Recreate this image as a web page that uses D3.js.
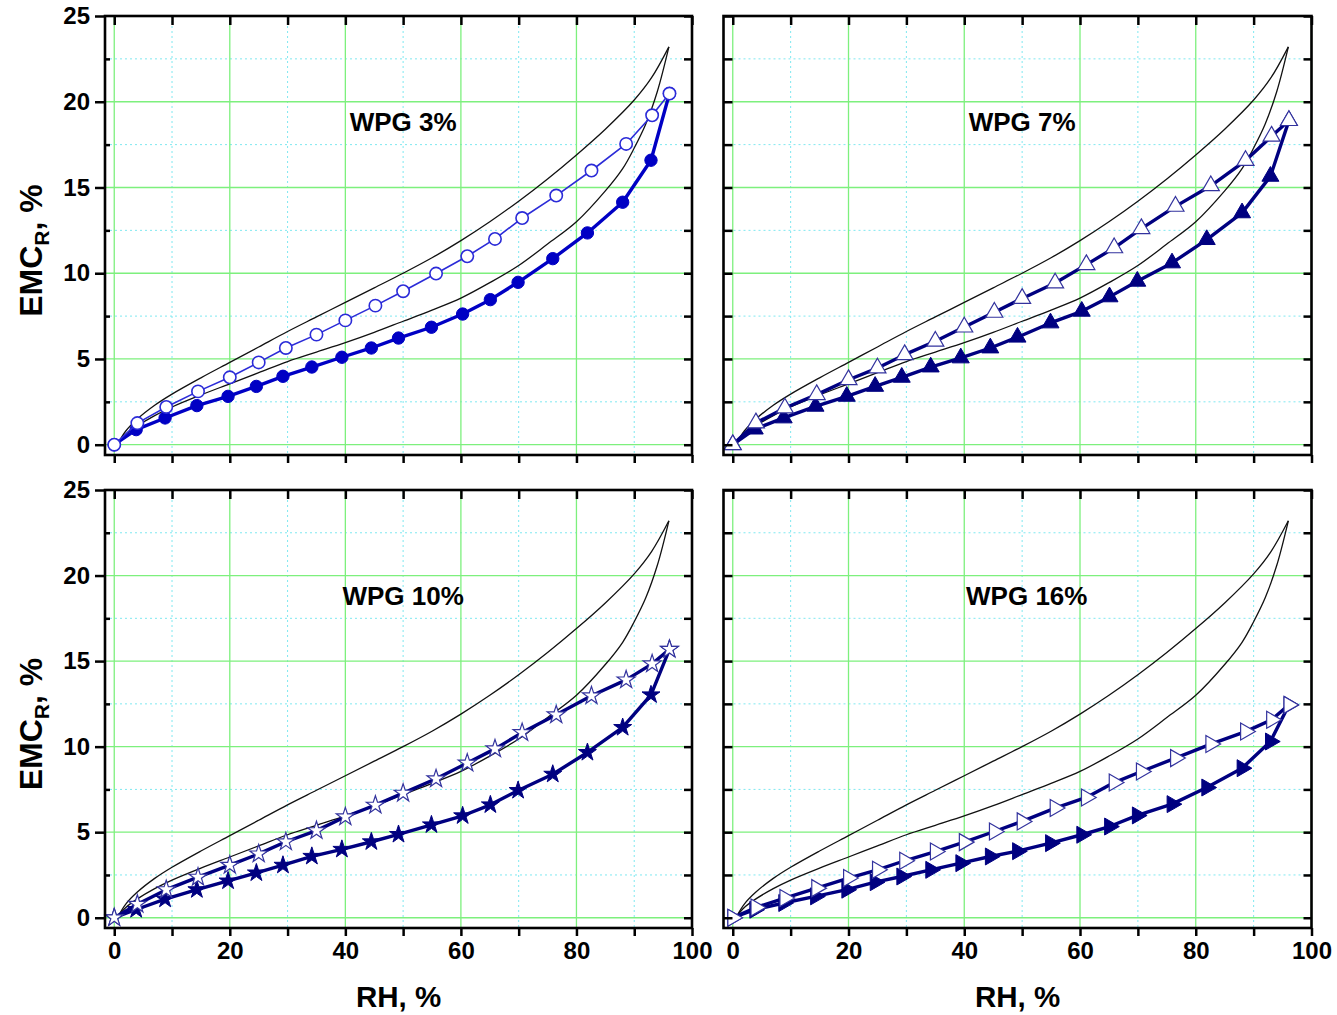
<!DOCTYPE html>
<html>
<head>
<meta charset="utf-8">
<script src="https://cdn.jsdelivr.net/npm/d3@7"></script>
<style>
  body { margin: 0; background: #fff; }
  svg { display: block; }
  text { font-family: "Liberation Sans", Arial, sans-serif; font-weight: bold; fill: #000; }
</style>
</head>
<body>
<svg id="chart" width="1337" height="1015"></svg>
<script>
// Relative humidity steps (%) of the desorption and adsorption runs
const rhDesorption = [0, 4, 9, 14.5, 20, 25, 29.7, 35, 40, 45.2, 50, 55.7, 61.1, 65.9, 70.6, 76.5, 82.6, 88.6, 93.1, 96.1];
const rhAdsorption = [0, 3.8, 8.8, 14.3, 19.7, 24.6, 29.2, 34.2, 39.4, 44.5, 49.2, 54.9, 60.3, 65.1, 69.9, 75.9, 81.9, 88, 92.9, 96.1];

// Reference (untreated) hysteresis loop, shown in every panel
const refUpperRH  = [0.7, 2, 4, 7, 10, 15, 20, 25, 30, 35, 40, 45, 50, 55, 60, 65, 70, 75, 80, 85, 90, 93, 96];
const refUpperEMC = [0.1, 0.8, 1.5, 2.3, 2.95, 3.9, 4.8, 5.7, 6.6, 7.45, 8.3, 9.15, 10.0, 10.9, 11.9, 13.0, 14.2, 15.5, 16.9, 18.4, 20.1, 21.4, 23.2];
const refLowerRH  = [0.7, 2, 4, 7, 10, 15, 20, 25, 30, 35, 40, 45, 50, 55, 60, 65, 70, 75, 80, 85, 88, 90, 92, 94, 96];
const refLowerEMC = [0.1, 0.6, 1.1, 1.7, 2.2, 2.9, 3.55, 4.2, 4.85, 5.4, 5.95, 6.55, 7.2, 7.85, 8.55, 9.45, 10.45, 11.7, 13.0, 14.8, 16.1, 17.3, 18.7, 20.6, 23.2];

// EMC_R (%) of the modified wood, by weight percent gain
const wpg3Desorption  = [0, 1.26, 2.2, 3.11, 3.93, 4.8, 5.64, 6.42, 7.25, 8.11, 8.95, 9.98, 10.99, 12.0, 13.22, 14.53, 15.99, 17.54, 19.21, 20.48];
const wpg3Adsorption  = [0, 0.88, 1.56, 2.28, 2.82, 3.4, 3.99, 4.53, 5.1, 5.64, 6.22, 6.85, 7.62, 8.46, 9.47, 10.85, 12.35, 14.14, 16.59, 20.48];
const wpg7Desorption  = [0, 1.27, 2.14, 2.92, 3.79, 4.47, 5.25, 6.03, 6.86, 7.72, 8.53, 9.43, 10.5, 11.48, 12.6, 13.9, 15.1, 16.57, 17.99, 18.9];
const wpg7Adsorption  = [0, 0.91, 1.56, 2.24, 2.82, 3.4, 3.93, 4.53, 5.06, 5.64, 6.27, 7.1, 7.78, 8.62, 9.53, 10.6, 11.96, 13.52, 15.65, 18.9];
const wpg10Desorption = [0, 0.79, 1.64, 2.37, 3.07, 3.73, 4.44, 5.09, 5.9, 6.58, 7.28, 8.12, 9.04, 9.87, 10.82, 11.86, 12.97, 13.9, 14.84, 15.69];
const wpg10Adsorption = [0, 0.48, 1.09, 1.64, 2.15, 2.62, 3.07, 3.59, 4.0, 4.44, 4.87, 5.43, 5.96, 6.6, 7.44, 8.39, 9.66, 11.12, 13.03, 15.69];
const wpg16Desorption = [0, 0.6, 1.15, 1.73, 2.32, 2.8, 3.33, 3.87, 4.42, 5.04, 5.63, 6.41, 7.03, 7.9, 8.55, 9.33, 10.15, 10.88, 11.57, 12.44];
const wpg16Adsorption = [0, 0.47, 0.86, 1.25, 1.64, 2.08, 2.41, 2.8, 3.19, 3.58, 3.89, 4.36, 4.85, 5.33, 5.98, 6.64, 7.61, 8.74, 10.3, 12.44];

const panelTitles = ["WPG 3%", "WPG 7%", "WPG 10%", "WPG 16%"];
const xTickLabels = [0, 20, 40, 60, 80, 100];
const yTickLabels = [0, 5, 10, 15, 20, 25];

// Panel frames (pixels)
const colX = [[105, 692], [723.5, 1311.5]];
const rowY = [[16, 455], [490, 928]];

const panels = [
  { title: panelTitles[0], des: wpg3Desorption,  ads: wpg3Adsorption,  marker: "circle",   col: 0, row: 0, bright: true,  titleX: 50 },
  { title: panelTitles[1], des: wpg7Desorption,  ads: wpg7Adsorption,  marker: "triangle", col: 1, row: 0, bright: false, titleX: 50 },
  { title: panelTitles[2], des: wpg10Desorption, ads: wpg10Adsorption, marker: "star",     col: 0, row: 1, bright: false, titleX: 50 },
  { title: panelTitles[3], des: wpg16Desorption, ads: wpg16Adsorption, marker: "right",    col: 1, row: 1, bright: false, titleX: 50.8 }
];

const svg = d3.select("#chart");
svg.append("rect").attr("width", 1337).attr("height", 1015).attr("fill", "#fff");

const majorGrid = "#7DF07D";
const minorGrid = "#7FE8F0";

function symbolFor(kind) {
  if (kind === "circle") return d3.symbol(d3.symbolCircle, 120)();
  if (kind === "star") return d3.symbol(d3.symbolStar, 100)();
  return d3.symbol(d3.symbolTriangle, 125)();
}

panels.forEach(p => {
  const [x0, x1] = colX[p.col];
  const [y0, y1] = rowY[p.row];
  const x = d3.scaleLinear().domain([-1.6, 100]).range([x0, x1]);
  const y = d3.scaleLinear().domain([-0.6, 25]).range([y1, y0]);
  const g = svg.append("g");

  // grid: dotted minor lines, solid major lines
  const grid = g.append("g");
  d3.range(10, 100, 20).forEach(v => grid.append("line")
    .attr("x1", x(v)).attr("x2", x(v)).attr("y1", y0).attr("y2", y1)
    .attr("stroke", minorGrid).attr("stroke-width", 1).attr("stroke-dasharray", "2,3"));
  d3.range(2.5, 25, 5).forEach(v => grid.append("line")
    .attr("x1", x0).attr("x2", x1).attr("y1", y(v)).attr("y2", y(v))
    .attr("stroke", minorGrid).attr("stroke-width", 1).attr("stroke-dasharray", "2,3"));
  xTickLabels.forEach(v => grid.append("line")
    .attr("x1", x(v)).attr("x2", x(v)).attr("y1", y0).attr("y2", y1)
    .attr("stroke", majorGrid).attr("stroke-width", 1.3));
  yTickLabels.forEach(v => grid.append("line")
    .attr("x1", x0).attr("x2", x1).attr("y1", y(v)).attr("y2", y(v))
    .attr("stroke", majorGrid).attr("stroke-width", 1.3));

  // reference loop
  const refLine = d3.line().x(d => x(d[0])).y(d => y(d[1])).curve(d3.curveCatmullRom.alpha(0.5));
  g.append("path").attr("d", refLine(refUpperRH.map((v, i) => [v, refUpperEMC[i]])))
    .attr("fill", "none").attr("stroke", "#111").attr("stroke-width", 1.3);
  g.append("path").attr("d", refLine(refLowerRH.map((v, i) => [v, refLowerEMC[i]])))
    .attr("fill", "none").attr("stroke", "#111").attr("stroke-width", 1.3);

  const line = d3.line().x(d => x(d[0])).y(d => y(d[1]));
  const ads = rhAdsorption.map((v, i) => [v, p.ads[i]]);
  const des = rhDesorption.map((v, i) => [v, p.des[i]]);

  const adsColor = p.bright ? "#0000C4" : "#000080";
  const desColor = p.bright ? "#2B2BD8" : "#000080";
  const openStroke = p.bright ? "#2B2BD8" : "#33339E";
  const rot = p.marker === "right" ? 90 : 0;
  const shape = symbolFor(p.marker);

  // adsorption: filled markers
  g.append("path").attr("d", line(ads)).attr("fill", "none")
    .attr("stroke", adsColor).attr("stroke-width", 3.4).attr("stroke-linejoin", "round");
  g.selectAll(null).data(ads).join("path")
    .attr("d", shape)
    .attr("transform", d => `translate(${x(d[0])},${y(d[1])}) rotate(${rot})`)
    .attr("fill", adsColor).attr("stroke", adsColor).attr("stroke-width", 1);

  // desorption: open markers
  g.append("path").attr("d", line(des)).attr("fill", "none")
    .attr("stroke", desColor).attr("stroke-width", p.bright ? 1.6 : 3.4).attr("stroke-linejoin", "round");
  g.selectAll(null).data(des).join("path")
    .attr("d", shape)
    .attr("transform", d => `translate(${x(d[0])},${y(d[1])}) rotate(${rot})`)
    .attr("fill", "#fff").attr("stroke", openStroke).attr("stroke-width", p.bright ? 1.6 : 1.2);

  // axes
  const styleAxis = a => {
    a.select(".domain").remove();
    a.selectAll(".tick line").attr("stroke", "#000").attr("stroke-width", 2.5);
    a.selectAll(".tick text").attr("font-size", 24).attr("font-family", "Liberation Sans, Arial, sans-serif").attr("font-weight", "bold").attr("fill", "#000");
    a.attr("font-size", null).attr("font-family", null);
  };
  const tens = d3.range(0, 101, 10);
  g.append("g").attr("transform", `translate(0,${y1})`)
    .call(d3.axisBottom(x).tickValues(tens).tickSize(8).tickPadding(6)
      .tickFormat(v => (p.row === 1 && xTickLabels.includes(v)) ? v : ""))
    .call(styleAxis);
  g.append("g").attr("transform", `translate(0,${y0})`)
    .call(d3.axisTop(x).tickValues(tens).tickSize(-9).tickFormat(""))
    .call(styleAxis);
  if (p.col === 0) {
    g.append("g").attr("transform", `translate(${x0},0)`)
      .call(d3.axisLeft(y).tickValues(yTickLabels).tickSize(10).tickPadding(5))
      .call(styleAxis);
    g.append("g").attr("transform", `translate(${x0},0)`)
      .call(d3.axisLeft(y).tickValues(d3.range(2.5, 25, 5)).tickSize(-5).tickFormat(""))
      .call(styleAxis);
  } else {
    g.append("g").attr("transform", `translate(${x0},0)`)
      .call(d3.axisLeft(y).tickValues(d3.range(0, 25.1, 2.5)).tickSize(-9).tickFormat(""))
      .call(styleAxis);
  }
  g.append("g").attr("transform", `translate(${x1},0)`)
    .call(d3.axisRight(y).tickValues(d3.range(0, 25.1, 2.5)).tickSize(-8).tickFormat(""))
    .call(styleAxis);

  // frame
  g.append("rect").attr("x", x0).attr("y", y0).attr("width", x1 - x0).attr("height", y1 - y0)
    .attr("fill", "none").attr("stroke", "#000").attr("stroke-width", 2.6);

  // panel title
  g.append("text").attr("x", x(p.titleX)).attr("y", y(18.3))
    .attr("text-anchor", "middle").attr("font-size", 26).text(p.title);

  // axis titles
  if (p.col === 0) {
    const t = g.append("text")
      .attr("transform", `translate(42,${(y0 + y1) / 2 + 15}) rotate(-90)`)
      .attr("text-anchor", "middle").attr("font-size", 32);
    t.append("tspan").text("EMC");
    t.append("tspan").attr("font-size", 21).attr("dy", 7).text("R");
    t.append("tspan").attr("dy", -7).text(", %");
  }
  if (p.row === 1) {
    g.append("text").attr("x", (x0 + x1) / 2).attr("y", 1007)
      .attr("text-anchor", "middle").attr("font-size", 29.5).text("RH, %");
  }
});
</script>
</body>
</html>
